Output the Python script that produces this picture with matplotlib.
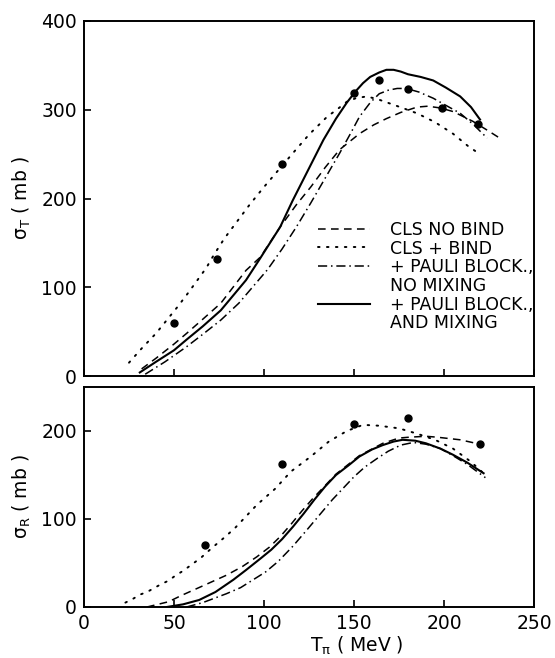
import numpy as np
import matplotlib
matplotlib.use('Agg')
import matplotlib.pyplot as plt
from matplotlib.lines import Line2D

# ---- top panel: total cross section sigma_T (mb) vs T_pi (MeV)
t_data_x = [50, 74, 110, 150, 164, 180, 199, 219]
t_data_y = [60, 132, 239, 319, 334, 323, 302, 284]

t_nobind_x = [32, 40, 50, 57, 66, 76, 90, 98, 109, 118, 126, 134, 142, 153, 161, 168, 176, 185, 191, 198, 205, 211, 216, 224, 231]
t_nobind_y = [8, 20, 36, 48, 64, 82, 119, 134, 168, 193, 213, 235, 255, 273, 283, 290, 297, 303, 304, 302, 298, 292, 287, 277, 268]

t_bind_x = [25, 32, 40, 46, 52, 58, 63, 68, 72, 78, 85, 92, 100, 108, 116, 125, 135, 141, 146, 151, 157, 163, 170, 177, 185, 195, 205, 214, 220]
t_bind_y = [15, 31, 48, 63, 78, 94, 108, 122, 136, 155, 174, 193, 213, 232, 251, 272, 292, 301, 309, 313, 315, 312, 307, 302, 296, 286, 273, 258, 250]

t_nomix_x = [34, 45, 57, 66, 76, 86, 94, 102, 110, 118, 126, 134, 142, 148, 153, 159, 164, 169, 174, 179, 186, 194, 201, 209, 216, 224]
t_nomix_y = [2, 16, 33, 47, 63, 82, 101, 120, 143, 168, 195, 223, 251, 273, 292, 308, 318, 322, 324, 324, 320, 313, 305, 296, 284, 268]

t_mix_x = [31, 40, 50, 57, 66, 76, 90, 98, 109, 116, 125, 133, 140, 146, 151, 155, 159, 164, 168, 172, 176, 180, 187, 194, 201, 209, 215, 220]
t_mix_y = [4, 16, 29, 41, 56, 74, 108, 133, 168, 198, 234, 266, 290, 308, 321, 330, 337, 342, 345, 345, 343, 340, 337, 333, 325, 315, 303, 289]

# ---- bottom panel: reaction cross section sigma_R (mb)
r_data_x = [67, 110, 150, 180, 220]
r_data_y = [70, 163, 208, 215, 185]

r_nobind_x = [35, 47, 54, 66, 79, 88, 96, 103, 109, 115, 121, 127, 140, 153, 166, 175, 181, 190, 196, 209, 220]
r_nobind_y = [0, 6, 13, 24, 36, 46, 57, 68, 80, 94, 109, 123, 151, 172, 186, 192, 193, 194, 193, 190, 185]

r_bind_x = [23, 27, 31, 35, 42, 47, 51, 55, 59, 65, 71, 78, 84, 90, 96, 106, 115, 126, 136, 146, 155, 164, 175, 185, 195, 205, 215, 223]
r_bind_y = [5, 9, 14, 17, 25, 30, 36, 41, 47, 56, 67, 79, 90, 103, 116, 134, 154, 171, 188, 200, 207, 206, 203, 197, 190, 180, 165, 150]

r_nomix_x = [57, 66, 79, 87, 94, 101, 108, 116, 124, 131, 138, 144, 150, 156, 163, 169, 176, 183, 190, 198, 205, 213, 223]
r_nomix_y = [0, 5, 15, 22, 31, 40, 52, 69, 88, 105, 122, 135, 148, 159, 169, 177, 184, 187, 185, 180, 172, 162, 147]

r_mix_x = [46, 55, 64, 73, 83, 90, 98, 104, 110, 116, 122, 128, 134, 140, 147, 153, 160, 166, 172, 177, 184, 190, 198, 205, 213, 222]
r_mix_y = [0, 3, 8, 17, 31, 42, 55, 65, 77, 91, 106, 122, 137, 150, 161, 171, 179, 184, 188, 190, 189, 186, 180, 173, 164, 152]

labels = ['CLS NO BIND', 'CLS + BIND', '+ PAULI BLOCK.,', 'NO MIXING', '+ PAULI BLOCK.,', 'AND MIXING']

# line styles
dash = dict(color='black', lw=1.1, linestyle=(0, (5, 3.5)))
dot = dict(color='black', lw=1.4, linestyle=(0, (0.8, 3.8)), dash_capstyle='round')
dashdot = dict(color='black', lw=1.1, linestyle=(0, (6, 2.5, 1, 2.5)))
solid = dict(color='black', lw=1.5, linestyle='-')

fig = plt.figure(figsize=(5.55, 6.58), dpi=100)
ax1 = fig.add_axes([84 / 555, 1 - 376 / 658, 450 / 555, 355 / 658])
ax2 = fig.add_axes([84 / 555, 1 - 607 / 658, 450 / 555, 220 / 658])

ax1.plot(t_nobind_x, t_nobind_y, **dash)
ax1.plot(t_bind_x, t_bind_y, **dot)
ax1.plot(t_nomix_x, t_nomix_y, **dashdot)
ax1.plot(t_mix_x, t_mix_y, **solid)
ax1.plot(t_data_x, t_data_y, 'o', color='black', ms=5)

ax2.plot(r_nobind_x, r_nobind_y, **dash)
ax2.plot(r_bind_x, r_bind_y, **dot)
ax2.plot(r_nomix_x, r_nomix_y, **dashdot)
ax2.plot(r_mix_x, r_mix_y, **solid)
ax2.plot(r_data_x, r_data_y, 'o', color='black', ms=5)

for ax in (ax1, ax2):
    ax.set_xlim(0, 250)
    ax.set_xticks([0, 50, 100, 150, 200, 250])
    for s in ax.spines.values():
        s.set_linewidth(1.4)
    ax.tick_params(direction='in', length=5, width=1.2, labelsize=13.5, pad=5,
                   top=False, right=False)

ax1.set_ylim(0, 400)
ax1.set_yticks([0, 100, 200, 300, 400])
ax1.tick_params(axis='x', labelbottom=False)
ax1.set_ylabel('σ$_{\\mathregular{T}}$ ( mb )', fontsize=13.5)
ax1.yaxis.set_label_coords(-0.113, 0.5)

ax2.set_ylim(0, 250)
ax2.set_yticks([0, 100, 200])
ax2.set_ylabel('σ$_{\\mathregular{R}}$ ( mb )', fontsize=13.5)
ax2.yaxis.set_label_coords(-0.113, 0.5)
ax2.set_xlabel('T$_{\\mathregular{\\pi}}$ ( MeV )', fontsize=13.5)
ax2.xaxis.set_label_coords(0.607, -0.125)

blank = Line2D([], [], color='none')
handles = [Line2D([], [], **dash), Line2D([], [], **dot), Line2D([], [], **dashdot),
           blank, Line2D([], [], **solid), blank]
ax1.legend(handles, labels, loc='upper left', bbox_to_anchor=(0.52, 0.437),
           frameon=False, fontsize=12.5, handlelength=3.0, handletextpad=1.15,
           labelspacing=0.04, borderpad=0, borderaxespad=0)

fig.savefig('out.png', dpi=100)
